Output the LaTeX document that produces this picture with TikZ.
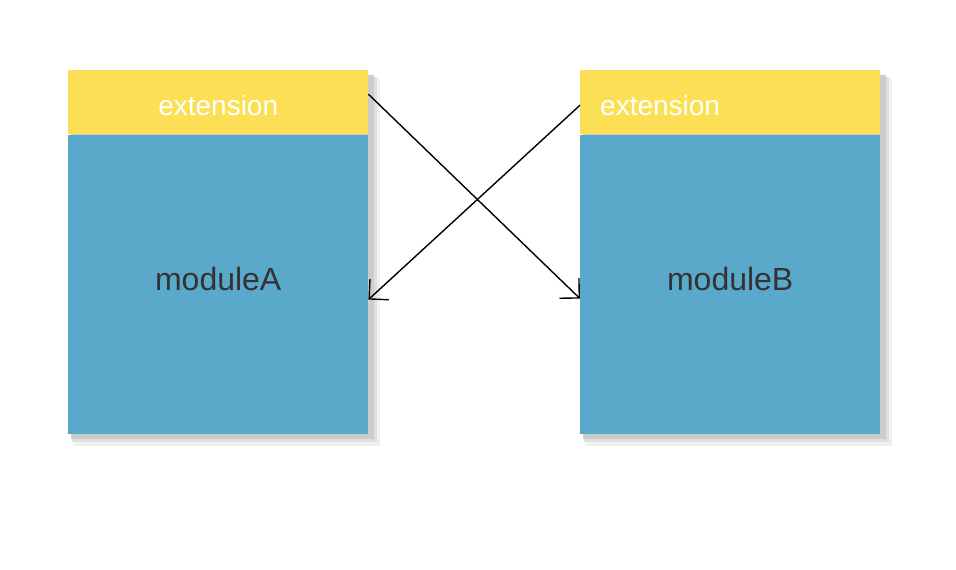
\documentclass[tikz,border=0pt]{standalone}
\usepackage{fontspec}
\setmainfont{Liberation Sans}
\usetikzlibrary{positioning,calc,arrows.meta}
\definecolor{extyellow}{HTML}{FCDF55}
\definecolor{modblue}{HTML}{5AA8CA}
\definecolor{modtext}{HTML}{333333}

\begin{document}
\begin{tikzpicture}[x=1pt,y=-1pt,
		exthead/.style={fill=extyellow,minimum width=300pt,minimum height=64pt,inner sep=0pt,
			text=white,font=\fontsize{28}{32}\selectfont,text height=27pt,text depth=0pt},
		modbody/.style={fill=modblue,minimum width=300pt,minimum height=299pt,inner sep=0pt,
			text=modtext,font=\fontsize{32}{36}\selectfont,text height=23pt,text depth=10pt},
		conn/.style={line width=1.4pt,-{Straight Barb[length=14pt,width=28pt]}}]
	\useasboundingbox (0,0) rectangle (956,570);
	% shadows
	\foreach \x in {68,580} {
		\fill[black!6] (\x+5,79) rectangle (\x+312,446);
		\fill[black!12] (\x+4,77) rectangle (\x+309,442);
		\fill[black!20] (\x+3,75) rectangle (\x+306,439);
	}
	\node[exthead,anchor=north west] (extA) at (68,70) {extension};
	\node[modbody,below=0pt of extA] (modA) {moduleA};
	\node[exthead,anchor=north west,text width=260pt,inner xsep=20pt,minimum width=0pt,align=left] (extB) at (580,70) {extension};
	\node[modbody,below=0pt of extB] (modB) {moduleB};
	\draw[conn] ([yshift=8pt]extA.east) -- ([yshift=-14.5pt]modB.west);
	\draw[conn] ([yshift=-3pt]extB.west) -- ([yshift=-15.5pt]modA.east);
\end{tikzpicture}
\end{document}
